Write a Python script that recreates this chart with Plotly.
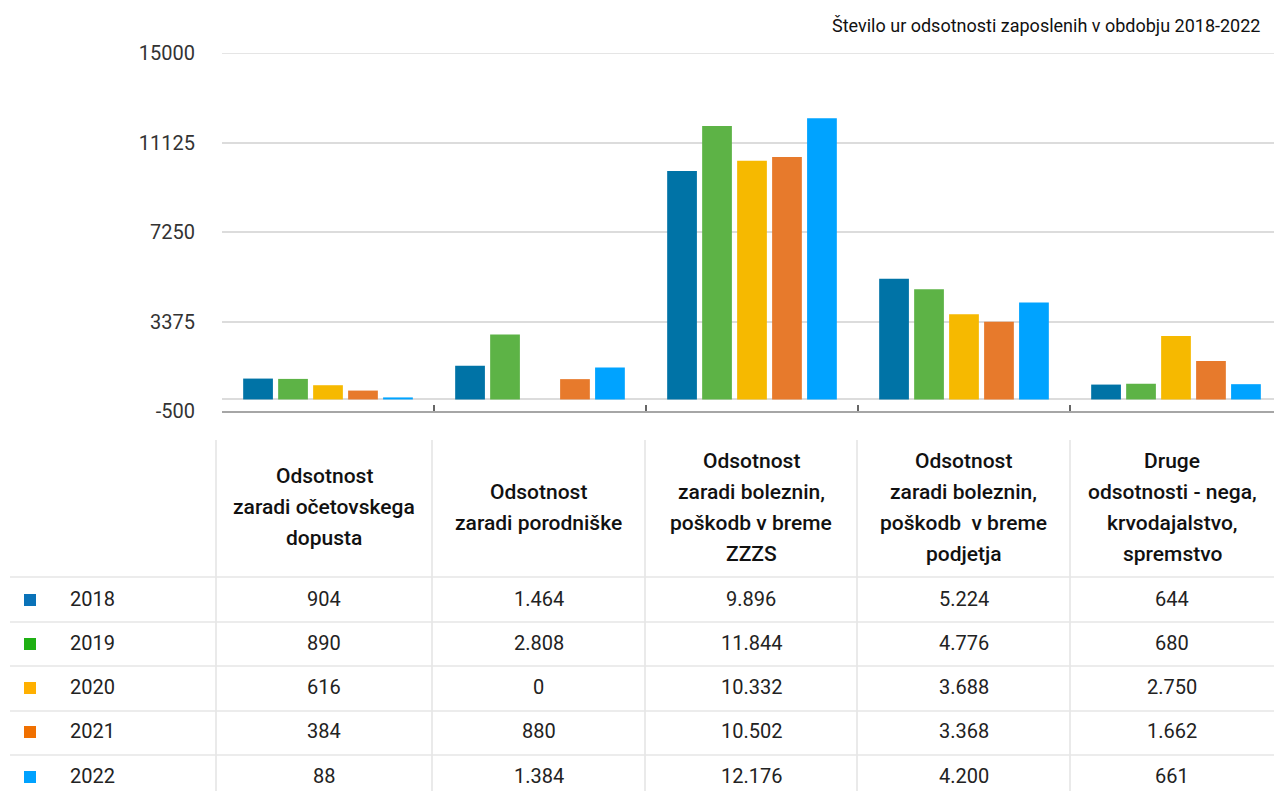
import plotly.graph_objects as go

W, H = 1274, 791

# ---------------- data ----------------
title_text = "Število ur odsotnosti zaposlenih v obdobju 2018-2022"
years = ["2018", "2019", "2020", "2021", "2022"]
categories = [
    "Odsotnost zaradi očetovskega dopusta",
    "Odsotnost zaradi porodniške",
    "Odsotnost zaradi boleznin, poškodb v breme ZZZS",
    "Odsotnost zaradi boleznin, poškodb v breme podjetja",
    "Druge odsotnosti - nega, krvodajalstvo, spremstvo",
]
category_lines = [
    ["Odsotnost", "zaradi očetovskega", "dopusta"],
    ["Odsotnost", "zaradi porodniške"],
    ["Odsotnost", "zaradi boleznin,", "poškodb v breme", "ZZZS"],
    ["Odsotnost", "zaradi boleznin,", "poškodb\u00a0 v breme", "podjetja"],
    ["Druge", "odsotnosti - nega,", "krvodajalstvo,", "spremstvo"],
]
values_2018 = [904, 1464, 9896, 5224, 644]
values_2019 = [890, 2808, 11844, 4776, 680]
values_2020 = [616, 0, 10332, 3688, 2750]
values_2021 = [384, 880, 10502, 3368, 1662]
values_2022 = [88, 1384, 12176, 4200, 661]
series = [values_2018, values_2019, values_2020, values_2021, values_2022]
y_ticks = [-500, 3375, 7250, 11125, 15000]

bar_colors = ["#0073a6", "#5db346", "#f6b900", "#e77a2c", "#00a3ff"]
legend_colors = ["#0a72b8", "#1fb014", "#ffb000", "#f07000", "#00a2ff"]

FONT = "Roboto"
TXT = "#222222"
GRID = "#dcdcdc"


def px(x):
    return x / W


def py(y):
    return 1 - y / H


fig = go.Figure()
for yr, vals, col in zip(years, series, bar_colors):
    fig.add_trace(go.Bar(name=yr, x=categories, y=vals, marker=dict(color=col, line=dict(width=0))))

# plot area geometry (pixels)
plot_left, plot_top, plot_bottom = 222, 53, 411
cat_w = 212.0
n_visible = (W - plot_left) / cat_w

fig.update_layout(
    width=W, height=H,
    margin=dict(l=0, r=0, t=0, b=0, pad=0),
    paper_bgcolor="white", plot_bgcolor="white",
    showlegend=False,
    barmode="group", bargap=0.175, bargroupgap=0.15,
    font=dict(family=FONT, color=TXT),
    xaxis=dict(
        domain=[px(plot_left), 1], type="category",
        range=[-0.5, -0.5 + n_visible], automargin=False,
        showticklabels=False, showgrid=False, zeroline=False,
        showline=True, linecolor="#a6a6a6", linewidth=2,
        tickson="boundaries", ticks="inside", ticklen=6, tickcolor="#666666", tickwidth=1.5,
        fixedrange=True,
    ),
    yaxis=dict(
        domain=[py(plot_bottom), py(plot_top)], automargin=False,
        range=[-500, 15000], tickmode="array", tickvals=y_ticks,
        ticktext=[str(v) for v in y_ticks],
        tickfont=dict(family=FONT, size=20, color="#333333"),
        showgrid=True, gridcolor=GRID, gridwidth=1.5,
        zeroline=True, zerolinecolor=GRID, zerolinewidth=2,
        showline=False, ticks="", ticklabelstandoff=26,
        fixedrange=True,
    ),
)

annotations = []
shapes = []

# top gridline (at the range edge, which plotly does not draw itself)
shapes.append(dict(type="line", xref="x domain", yref="y",
                   x0=0, x1=1, y0=y_ticks[-1], y1=y_ticks[-1],
                   line=dict(color=GRID, width=1.5), layer="below"))

# title
annotations.append(dict(
    text=title_text, xref="paper", yref="paper", x=px(1262), y=py(25),
    xanchor="right", yanchor="middle", showarrow=False,
    font=dict(family=FONT, size=18, color="#111111"),
))

# table geometry
col_edges = [216, 432, 645, 857, 1070, 1274]
row_lines = [577, 622, 666, 711, 755]
row_centers = [599, 643, 687, 731, 776]
header_center = 507
header_spacing = 31

for x in col_edges[:-1]:
    shapes.append(dict(type="line", xref="paper", yref="paper",
                       x0=px(x), x1=px(x), y0=py(440), y1=py(791),
                       line=dict(color="#e3e3e3", width=1.5)))
for y in row_lines:
    shapes.append(dict(type="line", xref="paper", yref="paper",
                       x0=px(10), x1=1, y0=py(y), y1=py(y),
                       line=dict(color="#e6e6e6", width=1.5)))

# header texts
for i, lines in enumerate(category_lines):
    cx = (col_edges[i] + col_edges[i + 1]) / 2
    n = len(lines)
    for j, line in enumerate(lines):
        yy = header_center + (j - (n - 1) / 2) * header_spacing
        annotations.append(dict(
            text=line, xref="paper", yref="paper", x=px(cx), y=py(yy),
            xanchor="center", yanchor="middle", showarrow=False,
            font=dict(family=FONT, size=21, color="#111111", weight=500),
        ))

# rows
for r, (yr, vals, lc) in enumerate(zip(years, series, legend_colors)):
    yc = row_centers[r]
    shapes.append(dict(type="rect", xref="paper", yref="paper",
                       x0=px(24), x1=px(36), y0=py(yc - 5), y1=py(yc + 7),
                       fillcolor=lc, line=dict(width=0)))
    annotations.append(dict(
        text=yr, xref="paper", yref="paper", x=px(68), y=py(yc),
        xanchor="left", yanchor="middle", showarrow=False,
        font=dict(family=FONT, size=20, color=TXT),
    ))
    for i, v in enumerate(vals):
        cx = (col_edges[i] + col_edges[i + 1]) / 2
        annotations.append(dict(
            text=f"{v:,}".replace(",", "."), xref="paper", yref="paper",
            x=px(cx), y=py(yc), xanchor="center", yanchor="middle", showarrow=False,
            font=dict(family=FONT, size=20, color=TXT),
        ))

fig.update_layout(annotations=annotations, shapes=shapes)
fig.write_html("out.html", config={"displayModeBar": False})
